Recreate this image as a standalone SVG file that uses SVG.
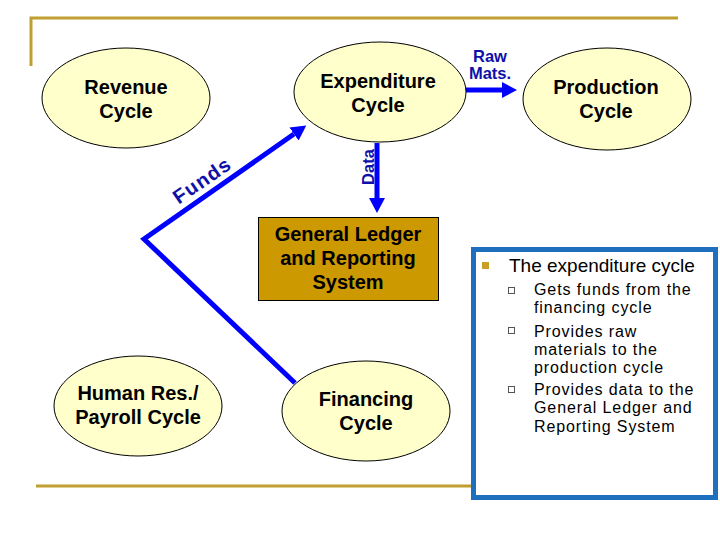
<svg xmlns="http://www.w3.org/2000/svg" width="720" height="540" viewBox="0 0 720 540">
<defs>
<style>
.ell{fill:#FFFFCC;stroke:#000;stroke-width:1}
.lbl{font-family:"Liberation Sans",Arial,sans-serif;font-weight:bold;font-size:20px;fill:#000;text-anchor:middle}
.blue{font-family:"Liberation Sans",Arial,sans-serif;font-weight:bold;fill:#1010A8}
.arrow{fill:none;stroke:#0000FF;stroke-width:5;stroke-linejoin:miter}
.gold{stroke:#BF9F2F;stroke-width:3;fill:none}
.bt{font-family:"Liberation Sans",Arial,sans-serif;fill:#000}
.sub{font-size:16px;letter-spacing:0.9px}
.sq{fill:#fff;stroke:#555;stroke-width:1}
</style>
<marker id="ah" markerUnits="userSpaceOnUse" markerWidth="16" markerHeight="16" refX="0" refY="8" orient="auto">
<path d="M0,0 L15,8 L0,16 z" fill="#0000FF"/>
</marker>
</defs>
<rect width="720" height="540" fill="#fff"/>
<g id="frame">
<path class="gold" d="M31,66 L31,18 L678,18"/>
<path class="gold" d="M36,486 L474,486"/>
</g>
<g id="connectors">
<path class="arrow" d="M295,383 L144,239 L294,134" marker-end="url(#ah)"/>
<path class="arrow" d="M463,90 L502,90" marker-end="url(#ah)"/>
<path class="arrow" d="M377,143 L377,198" marker-end="url(#ah)"/>
<text class="blue" font-size="20" letter-spacing="1.2" transform="translate(206,186) rotate(-34.5)" text-anchor="middle">Funds</text>
<text class="blue" font-size="16.5" transform="translate(374,167) rotate(-90)" text-anchor="middle">Data</text>
<text class="blue" font-size="16.5" x="490" y="62" text-anchor="middle">Raw</text>
<text class="blue" font-size="16.5" x="490" y="79" text-anchor="middle">Mats.</text>
</g>
<g id="revenue">
<ellipse class="ell" cx="126" cy="98" rx="84" ry="50"/>
<text class="lbl" x="126" y="94">Revenue</text>
<text class="lbl" x="126" y="118">Cycle</text>
</g>
<g id="expenditure">
<ellipse class="ell" cx="380" cy="92" rx="86" ry="50"/>
<text class="lbl" x="378" y="88">Expenditure</text>
<text class="lbl" x="378" y="112">Cycle</text>
</g>
<g id="production">
<ellipse class="ell" cx="607" cy="99" rx="84" ry="51"/>
<text class="lbl" x="606" y="94">Production</text>
<text class="lbl" x="606" y="118">Cycle</text>
</g>
<g id="gl">
<rect x="258.5" y="217.5" width="180" height="83" fill="#CC9900" stroke="#000" stroke-width="1"/>
<text class="lbl" x="348" y="241">General Ledger</text>
<text class="lbl" x="348" y="265">and Reporting</text>
<text class="lbl" x="348" y="289">System</text>
</g>
<g id="hr">
<ellipse class="ell" cx="138" cy="406" rx="84" ry="50"/>
<text class="lbl" x="138" y="400">Human Res./</text>
<text class="lbl" x="138" y="424">Payroll Cycle</text>
</g>
<g id="financing">
<ellipse class="ell" cx="366" cy="411" rx="84" ry="50"/>
<text class="lbl" x="366" y="406">Financing</text>
<text class="lbl" x="366" y="430">Cycle</text>
</g>
<g id="notes">
<rect x="473.5" y="249.5" width="242" height="248" fill="#fff" stroke="#1F6FBF" stroke-width="5"/>
<rect x="482" y="262" width="7" height="7" fill="#C8A028"/>
<text class="bt" x="509" y="272" font-size="19">The expenditure cycle</text>
<rect class="sq" x="508.5" y="287.5" width="6" height="6"/>
<rect class="sq" x="508.5" y="327.5" width="6" height="6"/>
<rect class="sq" x="508.5" y="386.5" width="6" height="6"/>
<text class="bt sub" x="534" y="295">Gets funds from the</text>
<text class="bt sub" x="534" y="313">financing cycle</text>
<text class="bt sub" x="534" y="337">Provides raw</text>
<text class="bt sub" x="534" y="355">materials to the</text>
<text class="bt sub" x="534" y="373">production cycle</text>
<text class="bt sub" x="534" y="395">Provides data to the</text>
<text class="bt sub" x="534" y="413">General Ledger and</text>
<text class="bt sub" x="534" y="432">Reporting System</text>
</g>
</svg>
